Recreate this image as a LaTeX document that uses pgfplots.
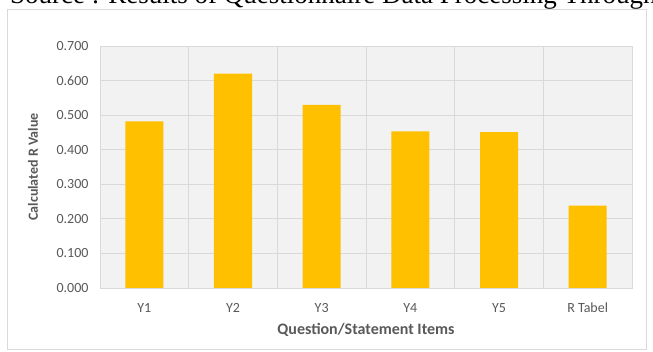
\documentclass[border=0pt]{standalone}
\usepackage{fontspec}
\setmainfont{Carlito}
\newfontfamily\timesfont{Liberation Serif}
\usepackage{pgfplots}
\pgfplotsset{compat=1.18}
\definecolor{barc}{HTML}{FFC000}
\definecolor{gridc}{HTML}{D9D9D9}
\definecolor{plotbg}{HTML}{F2F2F2}
\definecolor{txt}{HTML}{595959}
\begin{document}
\begin{tikzpicture}[x=1pt,y=1pt]
\clip (0,0) rectangle (653,352);
\fill[white] (0,0) rectangle (653,352);
\draw[gridc, line width=1pt] (7.5,2.5) rectangle (646.5,342.5);
\node[anchor=base west, inner sep=0, font=\timesfont\fontsize{27}{30}\selectfont] at (10,348) {Source : Results of Questionnaire Data Processing Through};
\begin{axis}[
  at={(100pt,64pt)}, anchor=south west,
  width=532pt, height=242pt, scale only axis,
  xmin=-0.5, xmax=5.5, ymin=0, ymax=0.7,
  axis background/.style={fill=plotbg},
  axis line style={gridc, line width=0.8pt},
  xtick={0,1,2,3,4,5}, xticklabels={Y1,Y2,Y3,Y4,Y5,R Tabel},
  minor xtick={0.5,1.5,2.5,3.5,4.5},
  xminorgrids, ymajorgrids,
  grid style={gridc, line width=0.8pt},
  minor grid style={gridc, line width=0.8pt},
  ytick={0,0.1,0.2,0.3,0.4,0.5,0.6,0.7},
  major tick length=0, minor tick length=0,
  /pgf/number format/fixed, /pgf/number format/fixed zerofill,
  /pgf/number format/precision=3, /pgf/number format/assume math mode=true,
  tick label style={font=\fontsize{14}{16}\selectfont, text=txt},
  yticklabel style={anchor=east, xshift=-8pt},
  xticklabel style={anchor=center, yshift=-20pt},
  xlabel={Question/Statement Items},
  ylabel={Calculated R Value},
  xlabel style={font=\bfseries\fontsize{16}{19}\selectfont, text=txt, at={(axis description cs:0.5,-0.1736)}, anchor=center},
  ylabel style={font=\bfseries\fontsize{14}{17}\selectfont, text=txt, at={(axis description cs:-0.126,0.5)}, anchor=center},
]
\addplot[ybar, bar width=38pt, fill=barc, draw=none] coordinates {
  (0,0.482) (1,0.620) (2,0.530) (3,0.453) (4,0.451) (5,0.238)
};
\end{axis}
\end{tikzpicture}
\end{document}
